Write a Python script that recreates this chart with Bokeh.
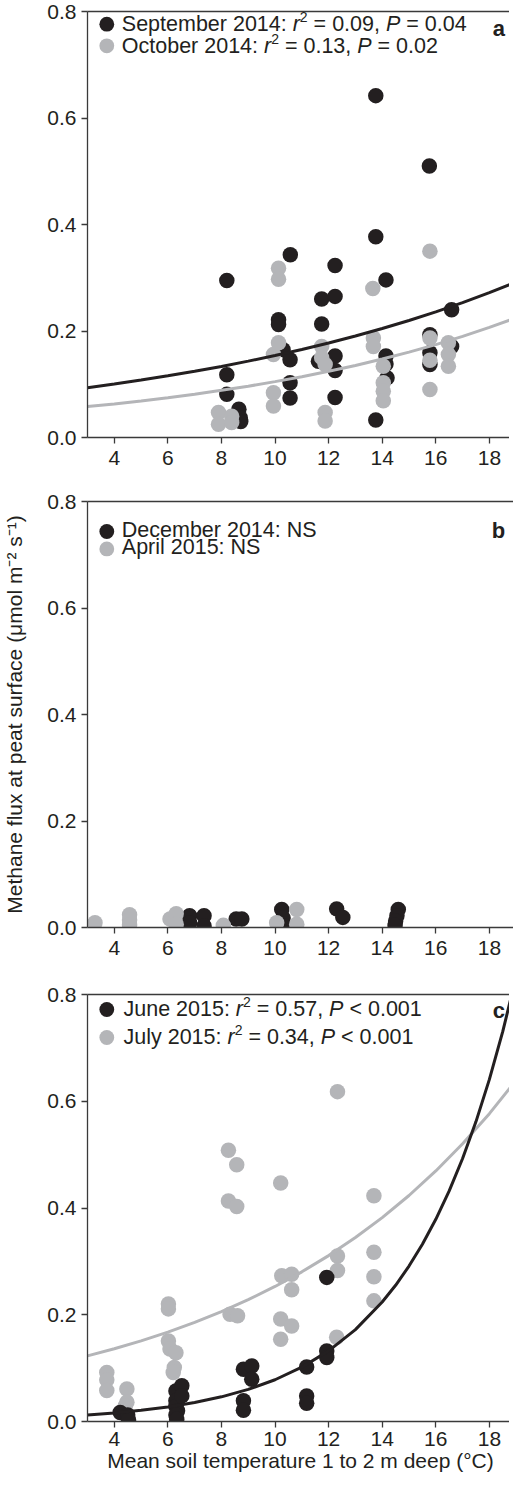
import numpy as np
from bokeh.plotting import figure
from bokeh.layouts import column
from bokeh.models import (Range1d, FixedTicker, LinearAxis, Label, PrintfTickFormatter)
from bokeh.embed import file_html
from bokeh.resources import INLINE

# ---------------- data ----------------
x_ticks = [4, 6, 8, 10, 12, 14, 16, 18]
y_ticks = [0.0, 0.2, 0.4, 0.6, 0.8]

# panel a
sep2014_temp = [8.20, 8.20, 8.20, 8.65, 8.70, 8.72, 10.13, 10.13, 10.30, 10.56, 10.56, 10.56,
                10.57, 11.74, 11.74, 11.62, 12.24, 12.24, 12.24, 12.24, 12.24, 13.76, 13.76,
                13.76, 14.14, 14.14, 14.14, 14.18, 15.76, 15.78, 15.78, 15.78, 16.59, 16.59]
sep2014_flux = [0.295, 0.118, 0.081, 0.053, 0.037, 0.030, 0.221, 0.212, 0.165, 0.146, 0.103, 0.074,
                0.343, 0.260, 0.213, 0.143, 0.323, 0.265, 0.153, 0.126, 0.075, 0.642, 0.377,
                0.033, 0.296, 0.153, 0.138, 0.112, 0.510, 0.193, 0.159, 0.137, 0.240, 0.171]
oct2014_temp = [7.89, 7.89, 8.38, 8.38, 9.94, 9.94, 9.94, 10.13, 10.13, 10.13, 11.74, 11.74, 11.87,
                11.87, 11.87, 13.65, 13.67, 13.67, 14.04, 14.04, 14.04, 14.04, 15.78, 15.78, 15.78,
                15.78, 16.47, 16.47, 16.47]
oct2014_flux = [0.047, 0.025, 0.040, 0.028, 0.156, 0.084, 0.059, 0.318, 0.297, 0.178, 0.171, 0.150,
                0.137, 0.047, 0.031, 0.280, 0.187, 0.171, 0.134, 0.103, 0.087, 0.069, 0.350, 0.187,
                0.145, 0.090, 0.178, 0.156, 0.134]

# panel b
dec2014_temp = [6.81, 6.81, 7.35, 7.35, 8.55, 8.76, 10.25, 10.30, 10.33, 12.30, 12.53, 14.60, 14.55,
                14.50, 14.48]
dec2014_flux = [0.022, 0.009, 0.022, 0.003, 0.016, 0.016, 0.034, 0.018, 0.003, 0.035, 0.019, 0.034,
                0.022, 0.012, 0.004]
apr2015_temp = [3.28, 4.57, 4.57, 4.57, 6.08, 6.31, 6.31, 8.07, 10.06, 10.81, 10.81]
apr2015_flux = [0.009, 0.024, 0.014, 0.005, 0.016, 0.026, 0.006, 0.004, 0.009, 0.034, 0.006]

# panel c
jun2015_temp = [4.22, 4.50, 4.53, 6.30, 6.30, 6.30, 6.36, 6.30, 6.33, 6.52, 6.52, 8.82, 9.13, 9.13,
                8.82, 8.82, 11.18, 11.18, 11.18, 11.93, 11.93, 11.93]
jun2015_flux = [0.017, 0.012, 0.003, 0.057, 0.039, 0.028, 0.020, 0.012, 0.004, 0.067, 0.048, 0.098,
                0.104, 0.079, 0.039, 0.021, 0.102, 0.048, 0.034, 0.270, 0.132, 0.120]
jul2015_temp = [3.72, 3.72, 3.72, 4.47, 4.47, 4.41, 6.02, 6.02, 6.02, 6.08, 6.30, 6.24, 6.20, 8.26,
                8.57, 8.26, 8.57, 8.32, 8.60, 10.21, 10.25, 10.62, 10.62, 10.21, 10.62, 10.21, 12.33,
                12.33, 12.33, 12.30, 13.69, 13.69, 13.69, 13.69]
jul2015_flux = [0.092, 0.078, 0.058, 0.061, 0.036, 0.029, 0.220, 0.211, 0.151, 0.136, 0.129, 0.101,
                0.092, 0.508, 0.481, 0.413, 0.403, 0.201, 0.198, 0.447, 0.273, 0.276, 0.247, 0.192,
                0.179, 0.154, 0.618, 0.310, 0.283, 0.158, 0.423, 0.317, 0.271, 0.226]

# fitted curves
fit_temp = [3, 4, 5, 6, 7, 8, 9, 10, 11, 12, 13, 14, 15, 16, 17, 18, 19]
sep2014_fit = [0.0935, 0.1004, 0.1078, 0.1158, 0.1243, 0.1335, 0.1434, 0.1540, 0.1653, 0.1775,
               0.1906, 0.2047, 0.2198, 0.2360, 0.2534, 0.2721, 0.2922]
oct2014_fit = [0.0580, 0.0631, 0.0687, 0.0748, 0.0814, 0.0886, 0.0964, 0.1049, 0.1142, 0.1243,
               0.1353, 0.1473, 0.1603, 0.1745, 0.1899, 0.2067, 0.2250]
jul2015_fit = [0.1230, 0.1363, 0.1511, 0.1675, 0.1857, 0.2059, 0.2282, 0.2530, 0.2804, 0.3108,
               0.3446, 0.3820, 0.4234, 0.4694, 0.5203, 0.5768, 0.6393]
jun_fit_temp = [3, 4, 5, 6, 7, 8, 9, 10, 11, 12, 13, 14, 14.5, 15, 15.5, 16, 16.5, 17, 17.5, 18,
                18.5, 19]
jun2015_fit = [0.0124, 0.0161, 0.0210, 0.0273, 0.0355, 0.0462, 0.0601, 0.0782, 0.1017, 0.1323,
               0.1721, 0.2238, 0.2552, 0.2912, 0.3321, 0.3788, 0.4320, 0.4927, 0.5619, 0.6409,
               0.7309, 0.8337]

# texts: (text, style) with style n=normal, i=italic, s=superscript
legend_a = [[("September 2014: ", "n"), ("r", "i"), ("2", "s"), (" = 0.09, ", "n"), ("P", "i"), (" = 0.04", "n")],
            [("October 2014: ", "n"), ("r", "i"), ("2", "s"), (" = 0.13, ", "n"), ("P", "i"), (" = 0.02", "n")]]
legend_b = [[("December 2014: NS", "n")],
            [("April 2015: NS", "n")]]
legend_c = [[("June 2015: ", "n"), ("r", "i"), ("2", "s"), (" = 0.57, ", "n"), ("P", "i"), (" < 0.001", "n")],
            [("July 2015: ", "n"), ("r", "i"), ("2", "s"), (" = 0.34, ", "n"), ("P", "i"), (" < 0.001", "n")]]
ylabel = "Methane flux at peat surface (\u03bcmol m\u207b\u00b2 s\u207b\u00b9)"
xlabel = "Mean soil temperature 1 to 2 m deep (\u00b0C)"

# ---------------- style ----------------
FONT = "Liberation Sans"
FS = 21
LFS = 21.5
SUP_FS = 14
SUP_RAISE = 7
LABEL_DY = 8
DARK = "#231f20"
GRAY = "#b4b5b8"
AXC = "#3a3a3a"
FRAME_W = 426
LEFT = 83
X_START, X_END = 3, 18.9
Y_START, Y_END = 0, 0.8

AW = {' ': 278, '(': 333, ')': 333, ',': 278, '.': 278, ':': 278, '<': 584, '=': 584,
      '\u2212': 584, '\u03bc': 576, '\u00b0': 400}
for ch in "0123456789":
    AW[ch] = 556
AW.update(dict(zip("abcdefghijklmnopqrstuvwxyz",
                   [556, 556, 500, 556, 556, 278, 556, 556, 222, 222, 500, 222, 833, 556, 556, 556,
                    556, 333, 500, 278, 556, 500, 722, 500, 500, 500])))
AW.update(dict(zip("ABCDEFGHIJKLMNOPQRSTUVWXYZ",
                   [667, 667, 722, 722, 667, 611, 778, 722, 278, 500, 667, 556, 833, 722, 778, 667,
                    778, 722, 667, 611, 722, 667, 944, 667, 667, 611])))


def tw(s, size):
    return sum(AW.get(c, 556) for c in s) * size / 1000.0


def rich_text(p, parts, x, y):
    pos = 0.0
    for txt, st in parts:
        size = SUP_FS if st == "s" else LFS
        lead = len(txt) - len(txt.lstrip(" "))
        shown = txt.strip(" ")
        off = pos + tw(" " * lead, size)
        raise_ = SUP_RAISE if st == "s" else 0
        p.add_layout(Label(x=x + off, y=y + raise_ + LABEL_DY, x_units="screen", y_units="screen",
                           text=shown, text_font=FONT, text_font_size=f"{size}px",
                           text_font_style="italic" if st == "i" else "normal",
                           text_color=DARK, text_align="left", text_baseline="alphabetic"))
        pos += tw(txt, size)


def make_panel(H, top, bottom, series, fits, legend_parts, legend_cols, marker_d, base_d, text_x,
               letter, letter_d, with_xlabel=False, with_ylabel=False):
    p = figure(frame_width=FRAME_W, frame_height=H, x_range=Range1d(X_START, X_END),
               y_range=Range1d(Y_START, Y_END), output_backend="svg", toolbar_location=None,
               min_border_left=LEFT, min_border_right=0, min_border_top=top,
               min_border_bottom=bottom)
    p.background_fill_color = "white"
    p.border_fill_color = "white"
    p.outline_line_color = None
    p.xgrid.grid_line_color = None
    p.ygrid.grid_line_color = None
    xa = p.below[0]
    ya = p.left[0]
    for ax in (xa, ya):
        ax.axis_line_color = AXC
        ax.axis_line_width = 1.3
        ax.major_tick_line_color = AXC
        ax.major_tick_line_width = 1.3
        ax.major_tick_out = 6
        ax.major_tick_in = 0
        ax.minor_tick_line_color = None
        ax.major_label_text_font = FONT
        ax.major_label_text_font_size = f"{FS}px"
        ax.major_label_text_color = DARK
    xa.ticker = FixedTicker(ticks=x_ticks)
    ya.ticker = FixedTicker(ticks=y_ticks)
    ya.formatter = PrintfTickFormatter(format="%.1f")
    xa.major_label_standoff = 4 if with_xlabel else 7
    ya.major_label_standoff = 5
    if with_xlabel:
        xa.axis_label = xlabel
        xa.axis_label_text_font = FONT
        xa.axis_label_text_font_size = f"{FS}px"
        xa.axis_label_text_font_style = "normal"
        xa.axis_label_text_color = DARK
        xa.axis_label_standoff = 0
    if with_ylabel:
        ya.axis_label = ylabel
        ya.axis_label_text_font = FONT
        ya.axis_label_text_font_size = f"{FS}px"
        ya.axis_label_text_font_style = "normal"
        ya.axis_label_text_color = DARK
        ya.axis_label_standoff = 18
    top_axis = LinearAxis(ticker=FixedTicker(ticks=[]), axis_line_color=AXC, axis_line_width=1.3,
                          major_tick_line_color=None, minor_tick_line_color=None,
                          major_label_text_font_size="0px")
    p.add_layout(top_axis, "above")

    for xs, ys, col in series:
        p.scatter(xs, ys, size=15.5, fill_color=col, line_color=None)
    for xs, ys, col in fits:
        p.line(xs, ys, line_color=col, line_width=3)

    # legend: markers + rich text
    px_x = FRAME_W / (X_END - X_START)
    px_y = H / (Y_END - Y_START)
    mx = X_START + 19.3 / px_x
    for d, col in zip(marker_d, legend_cols):
        p.scatter([mx], [Y_END - d / px_y], size=14.8, fill_color=col, line_color=None)
    for parts, bd in zip(legend_parts, base_d):
        rich_text(p, parts, text_x, H - bd)

    p.add_layout(Label(x=417.6, y=H - letter_d + LABEL_DY, x_units="screen", y_units="screen",
                       text=letter, text_font=FONT, text_font_size="22px",
                       text_font_style="bold", text_color=DARK, text_align="right",
                       text_baseline="alphabetic"))
    return p


pa = make_panel(426, 11, 53,
                [(sep2014_temp, sep2014_flux, DARK), (oct2014_temp, oct2014_flux, GRAY)],
                [(fit_temp, oct2014_fit, GRAY), (fit_temp, sep2014_fit, DARK)],
                legend_a, (DARK, GRAY), (12.7, 34.3), (20.3, 42.0), 34.3, "a", 25)
pb = make_panel(426, 11, 56,
                [(dec2014_temp, dec2014_flux, DARK), (apr2015_temp, apr2015_flux, GRAY)],
                [], legend_b, (DARK, GRAY), (30.0, 47.4), (36.7, 53.4), 34.3, "b", 36.7,
                with_ylabel=True)
pc = make_panel(427, 11, 59,
                [(jul2015_temp, jul2015_flux, GRAY), (jun2015_temp, jun2015_flux, DARK)],
                [(fit_temp, jul2015_fit, GRAY), (jun_fit_temp, jun2015_fit, DARK)],
                legend_c, (DARK, GRAY), (15.0, 43.0), (22.3, 50.0), 36.0, "c", 24,
                with_xlabel=True)

layout = column(pa, pb, pc, spacing=0)
open("out.html", "w").write(file_html(layout, INLINE))
